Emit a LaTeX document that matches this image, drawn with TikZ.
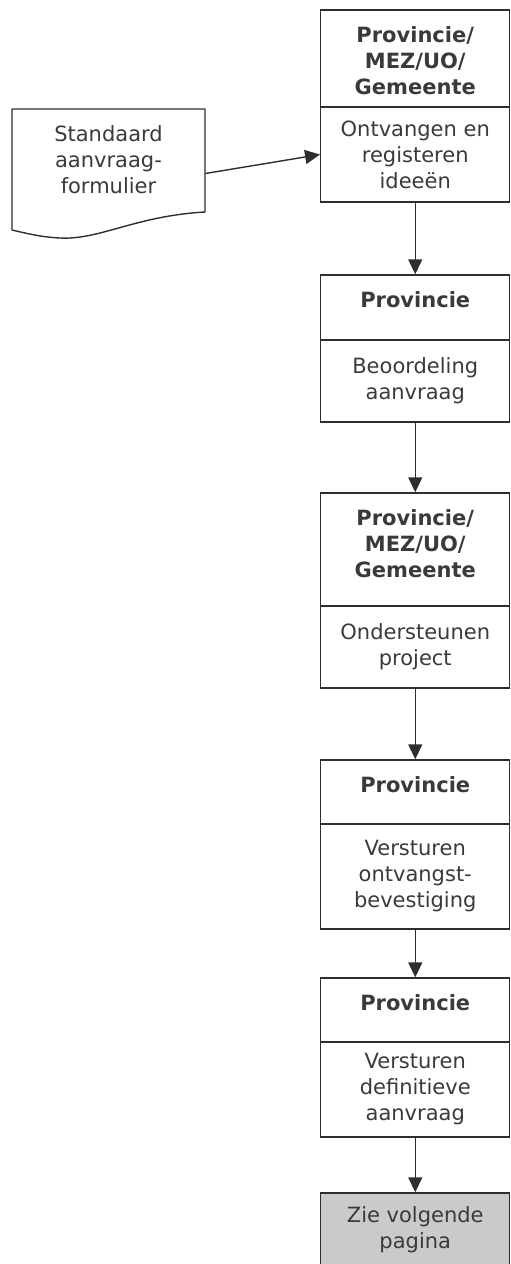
\documentclass[tikz,border=0pt]{standalone}
\usepackage{fontspec}
\setmainfont{DejaVu Sans}
\usetikzlibrary{arrows.meta}
\definecolor{ln}{HTML}{2E2E2E}
\definecolor{tx}{HTML}{3A3A3A}
\definecolor{endgray}{HTML}{CACACA}
\begin{document}
\begin{tikzpicture}[x=0.5pt,y=-0.5pt,
  cell/.style={draw=ln, line width=0.7pt, minimum width=94.5pt, inner sep=0pt},
  body/.style={cell, font=\fontsize{10.5}{13}\selectfont, text=tx, align=center},
  hdrtxt/.style={font=\fontsize{10.5}{13}\selectfont\bfseries, text=tx, align=center, anchor=north, inner sep=0pt},
  doctxt/.style={font=\fontsize{10.5}{13}\selectfont, text=tx, align=center, inner sep=0pt},
  flow/.style={draw=ln, line width=0.7pt, -{Triangle[width=7pt,length=7.5pt]}}]
\useasboundingbox (0,0) rectangle (510,1264);

% document shape
\node[minimum width=96.5pt, minimum height=64.5pt, inner sep=0pt] (doc) at (108.5,173.5) {};
\draw[ln, line width=0.7pt, line join=round] (12,109) -- (205,109) -- (205,212)
  .. controls (135,216) and (100,240) .. (60,238)
  .. controls (40,237) and (25,233) .. (12,230) -- cycle;
\node[doctxt] (doctext) at (108.5,160) {Standaard\\aanvraag-\\formulier};

% box 1
\node[cell, minimum height=48.5pt] (h1) at (415.25,58.5) {};
\node[hdrtxt] (t1) at ([yshift=-8.5pt]h1.north) {Provincie/\\MEZ/UO/\\Gemeente};
\node[body, minimum height=47.5pt] (b1) at (415.25,154.5) {Ontvangen en\\registeren\\ideeën};

% box 2
\node[cell, minimum height=32.5pt] (h2) at (415.25,307.5) {};
\node[hdrtxt] (t2) at ([yshift=-8.5pt]h2.north) {Provincie};
\node[body, minimum height=41pt] (b2) at (415.25,381) {Beoordeling\\aanvraag};

% box 3
\node[cell, minimum height=56.5pt] (h3) at (415.25,549.5) {};
\node[hdrtxt] (t3) at ([yshift=-8.5pt]h3.north) {Provincie/\\MEZ/UO/\\Gemeente};
\node[body, minimum height=41pt] (b3) at (415.25,647) {Ondersteunen\\project};

% box 4
\node[cell, minimum height=32pt] (h4) at (415.25,792) {};
\node[hdrtxt] (t4) at ([yshift=-8.5pt]h4.north) {Provincie};
\node[body, minimum height=52.5pt] (b4) at (415.25,876.5) {Versturen\\ontvangst-\\bevestiging};

% box 5
\node[cell, minimum height=32pt] (h5) at (415.25,1010) {};
\node[hdrtxt] (t5) at ([yshift=-8.5pt]h5.north) {Provincie};
\node[body, minimum height=47.5pt] (b5) at (415.25,1089.5) {Versturen\\definitieve\\aanvraag};

% end box
\node[body, fill=endgray, minimum height=36.5pt] (end) at (415.25,1229.5) {Zie volgende\\pagina};

% connectors
\draw[flow] (doc.east) -- (b1.west);
\draw[flow] (b1) -- (h2);
\draw[flow] (b2) -- (h3);
\draw[flow] (b3) -- (h4);
\draw[flow] (b4) -- (h5);
\draw[flow] (b5) -- (end);
\end{tikzpicture}
\end{document}
